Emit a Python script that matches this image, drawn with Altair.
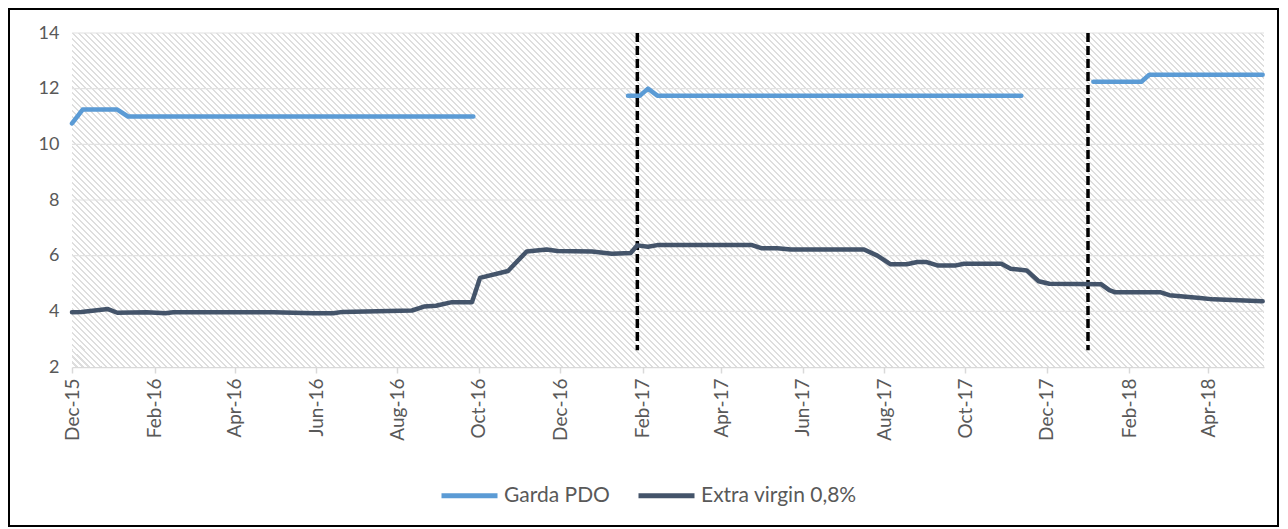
import altair as alt
import pandas as pd

# ---------------- data ----------------
garda_dates = ["2015-12-01", "2015-12-09", "2016-01-04", "2016-01-12", "2016-09-27",
               "2017-01-21", "2017-01-30", "2017-02-05", "2017-02-12", "2017-11-12",
               "2018-01-05", "2018-02-10", "2018-02-16", "2018-05-12"]
garda_vals = [10.75, 11.25, 11.25, 11.0, 11.0,
              11.75, 11.75, 12.0, 11.75, 11.75,
              12.25, 12.25, 12.5, 12.5]
garda_seg = [1, 1, 1, 1, 1, 2, 2, 2, 2, 2, 3, 3, 3, 3]

ev_dates = ["2015-12-01", "2015-12-08", "2015-12-28", "2016-01-04", "2016-01-26",
            "2016-02-09", "2016-02-15", "2016-04-30", "2016-05-15", "2016-05-30",
            "2016-06-14", "2016-06-21", "2016-08-12", "2016-08-21", "2016-08-30",
            "2016-09-11", "2016-09-26", "2016-10-02", "2016-10-23", "2016-11-06",
            "2016-11-21", "2016-11-29", "2016-12-25", "2017-01-09", "2017-01-23",
            "2017-01-28", "2017-02-05", "2017-02-12", "2017-04-24", "2017-05-01",
            "2017-05-13", "2017-05-23", "2017-07-17", "2017-07-27", "2017-08-06",
            "2017-08-18", "2017-08-26", "2017-09-02", "2017-09-10", "2017-09-24",
            "2017-09-30", "2017-10-28", "2017-11-04", "2017-11-16", "2017-11-25",
            "2017-12-03", "2018-01-11", "2018-01-17", "2018-01-21", "2018-02-24",
            "2018-03-03", "2018-03-26", "2018-04-05", "2018-05-12"]
ev_vals = [3.97, 3.98, 4.08, 3.95, 3.97,
           3.93, 3.97, 3.97, 3.95, 3.93,
           3.93, 3.98, 4.03, 4.17, 4.2,
           4.33, 4.33, 5.2, 5.45, 6.15,
           6.22, 6.17, 6.15, 6.07, 6.1,
           6.37, 6.32, 6.38, 6.38, 6.27,
           6.27, 6.22, 6.22, 6.0, 5.69,
           5.69, 5.77, 5.77, 5.65, 5.65,
           5.71, 5.71, 5.53, 5.47, 5.08,
           4.99, 4.97, 4.76, 4.69, 4.69,
           4.58, 4.48, 4.43, 4.36]

event_dates = ["2017-01-28", "2018-01-01"]
event_top = 14
event_bottom = 2.6

series_names = ["Garda PDO", "Extra virgin 0,8%"]
series_colors = ["#5B9BD5", "#44546A"]

y_ticks = [2, 4, 6, 8, 10, 12, 14]
y_grid = [4, 6, 8, 10, 12, 14]
x_tick_months = [(2015, 12), (2016, 2), (2016, 4), (2016, 6), (2016, 8), (2016, 10),
                 (2016, 12), (2017, 2), (2017, 4), (2017, 6), (2017, 8), (2017, 10),
                 (2017, 12), (2018, 2), (2018, 4)]
x_start = (2015, 12, 1)
x_end = (2018, 5, 13)

# ---------------- build tables ----------------
rows = []
for d, v, s in zip(garda_dates, garda_vals, garda_seg):
    rows.append({"date": d + "T00:00:00", "value": v, "series": series_names[0], "seg": f"g{s}"})
for d, v in zip(ev_dates, ev_vals):
    rows.append({"date": d + "T00:00:00", "value": v, "series": series_names[1], "seg": "ev"})
df = pd.DataFrame(rows)
ev_df = pd.DataFrame({"date": [d + "T00:00:00" for d in event_dates],
                      "top": [event_top] * len(event_dates),
                      "bottom": [event_bottom] * len(event_dates)})
grid_df = pd.DataFrame({"v": y_grid})

W, H = 1192, 334
FONT = "Lato"
TXT = "#595959"

# hatched background via a linear gradient with hard stops (diagonal "\" stripes)
period = 6.0
duty = 0.45
span = W + H
k = span / (W * W + H * H)
stops = []
i = 0
while i * period < span:
    a = i * period / span
    b = min((i * period + period * (1 - duty)) / span, 1.0)
    c = min((i + 1) * period / span, 1.0)
    stops += [alt.GradientStop(offset=a, color="#FFFFFF"),
              alt.GradientStop(offset=b, color="#FFFFFF"),
              alt.GradientStop(offset=b, color="#DEDEDE"),
              alt.GradientStop(offset=c, color="#DEDEDE")]
    i += 1
hatch = alt.LinearGradient(gradient="linear", stops=stops,
                           x1=0, y1=1, x2=k * W, y2=1 - k * H)

x_scale = alt.Scale(domain=[alt.DateTime(year=x_start[0], month=x_start[1], date=x_start[2]),
                            alt.DateTime(year=x_end[0], month=x_end[1], date=x_end[2])])
y_scale = alt.Scale(domain=[2, 14], nice=False, zero=False)

x_axis = alt.Axis(values=[alt.DateTime(year=y, month=m, date=1) for y, m in x_tick_months],
                  format="%b-%y", labelAngle=-90, labelAlign="right", labelBaseline="middle",
                  labelPadding=5, labelFont=FONT, labelFontSize=19, labelColor=TXT,
                  domainColor="#D9D9D9", domainWidth=1.5, tickColor="#D9D9D9",
                  tickSize=6, tickWidth=1.5, grid=False, title=None, labelOverlap=False)
y_axis = alt.Axis(values=y_ticks, domain=False, ticks=False, grid=False, title=None,
                  labelPadding=13, labelFont=FONT, labelFontSize=18, labelColor=TXT)

base = alt.Chart(df)

background = alt.Chart(grid_df).mark_rect(color=hatch).encode(
    x=alt.value(0), x2=alt.value(W), y=alt.value(0), y2=alt.value(H))

grid = alt.Chart(grid_df).mark_rule(color="#E2E2E2", strokeWidth=1.2).encode(
    y=alt.Y("v:Q", scale=y_scale, axis=y_axis))

lines = base.mark_line(strokeWidth=4.5, strokeCap="round", strokeJoin="round").encode(
    x=alt.X("date:T", scale=x_scale, axis=x_axis),
    y=alt.Y("value:Q", scale=y_scale, axis=y_axis),
    color=alt.Color("series:N",
                    scale=alt.Scale(domain=series_names, range=series_colors),
                    legend=alt.Legend(title=None, orient="none", legendX=367, legendY=432,
                                      direction="horizontal", symbolType="stroke",
                                      symbolSize=3136, symbolStrokeWidth=5,
                                      labelFont=FONT, labelFontSize=21, labelColor=TXT,
                                      labelOffset=4, columnPadding=18, labelLimit=400)),
    detail="seg:N")

events = alt.Chart(ev_df).mark_rule(color="black", strokeWidth=3.5, strokeDash=[9, 4]).encode(
    x=alt.X("date:T", scale=x_scale),
    y=alt.Y("top:Q", scale=y_scale),
    y2="bottom:Q")

frame = alt.Chart(grid_df).mark_rect(fill="transparent", stroke="black", strokeWidth=2).encode(
    x=alt.value(-63), x2=alt.value(W + 14), y=alt.value(-24), y2=alt.value(H + 159))

chart = alt.layer(background, grid, events, lines, frame).properties(
    width=W, height=H,
    autosize=alt.AutoSizeParams(type="none"),
    padding={"left": 64, "top": 25, "right": 16, "bottom": 161},
).configure_view(stroke=None)

chart.save("out.html", embed_options={"renderer": "svg", "actions": False})
